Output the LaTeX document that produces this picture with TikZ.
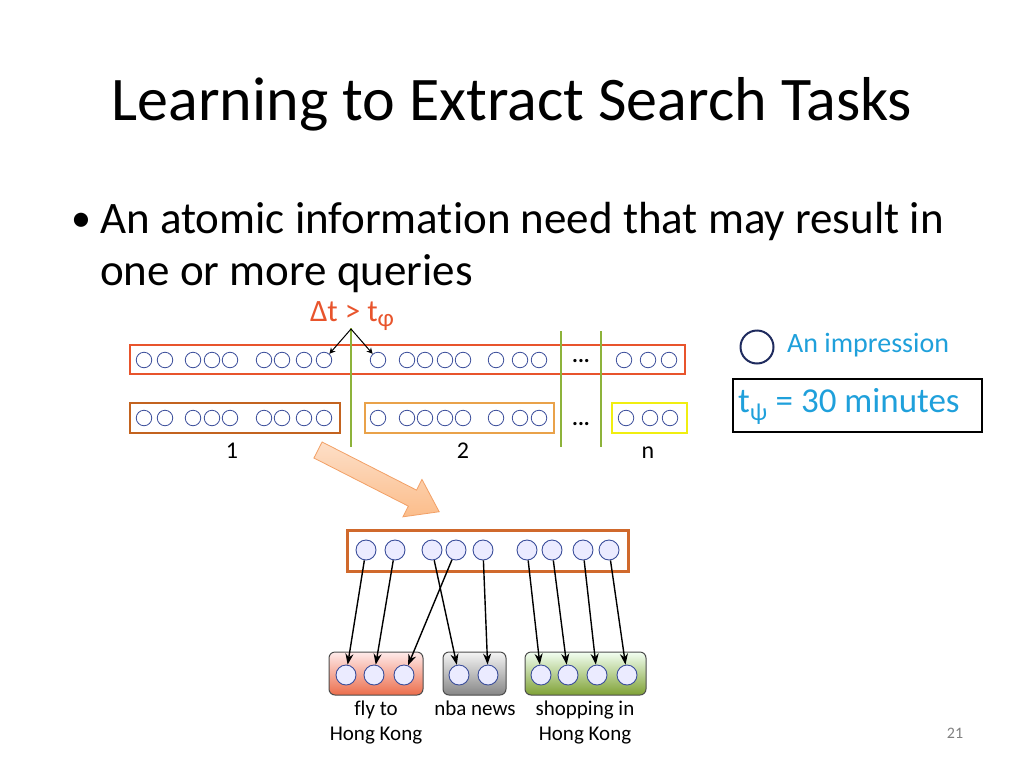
\documentclass[tikz,border=0pt]{standalone}
\usepackage{fontspec}
\setmainfont{Carlito}[Ligatures=NoCommon]
\usetikzlibrary{arrows.meta}
\definecolor{queryred}{HTML}{E8542C}
\definecolor{taskbrown}{HTML}{C3631F}
\definecolor{taskorange}{HTML}{E9A24A}
\definecolor{taskyellow}{HTML}{F0EE10}
\definecolor{cutgreen}{HTML}{8DB33A}
\definecolor{impblue}{HTML}{3A4D9A}
\definecolor{legendblue}{HTML}{1F2B5E}
\definecolor{legendcyan}{HTML}{1FA0DB}
\definecolor{sessionorange}{HTML}{D0692C}
\definecolor{peach}{HTML}{FBC49A}
\definecolor{peachedge}{HTML}{F2A066}
\newcommand{\fsz}[1]{\fontsize{#1}{1.2\dimexpr#1pt\relax}\selectfont}

\tikzset{
  imp/.style={circle, draw=impblue, line width=0.8pt, minimum size=15.5pt, inner sep=0pt},
  bigimp/.style={circle, draw=impblue, line width=0.9pt, fill=white!92!blue, minimum size=20pt, inner sep=0pt},
  cut/.style={cutgreen, line width=1.2pt},
  link/.style={-{Stealth[length=11pt,width=8pt]}, line width=1.4pt, black},
  tasklabel/.style={font=\fsz{21}, align=center, inner sep=0pt},
  partlabel/.style={font=\fsz{24}, anchor=base, inner sep=0pt},
  group/.style={rounded corners=6pt, draw=black!70, line width=1pt}
}

\begin{document}
\begin{tikzpicture}[x=1pt,y=-1pt]
\useasboundingbox (0,0) rectangle (1024,768);

% title and bullet
\node[anchor=base, inner sep=0pt] (title) at (512,120) {\fsz{62}Learning to Extract Search Tasks};
\node[anchor=base west, inner sep=0pt] (bullet) at (71,231) {\fsz{40}•};
\node[anchor=base west, inner sep=0pt] (line1) at (100,233) {\fsz{45}An atomic information need that may result in};
\node[anchor=base west, inner sep=0pt] (line2) at (100,285) {\fsz{45}one or more queries};

% upper picture: query log and its split into tasks
\draw[queryred, line width=2.5pt] (130,345) rectangle (685,374);
\draw[taskbrown, line width=2.5pt] (130,403) rectangle (340,433);
\draw[taskorange, line width=2.5pt] (365,403) rectangle (554,433);
\draw[taskyellow, line width=2.5pt] (612,403) rectangle (687,433);

\foreach \x [count=\i] in {144,165,193,212,230,264,282,304,324,378,407,425,445,463,496,520,539,624,648,669}
  \node[imp] (up\i) at (\x,360) {};
\foreach \x [count=\i] in {144,165,193,212,230,264,282,304,324,378,407,425,445,463,496,520,539,626,650,670}
  \node[imp] (lo\i) at (\x,418) {};

\draw[cut] (351,328) -- (351,447);
\draw[cut] (561,331) -- (561,447);
\draw[cut] (601,331) -- (601,447);

\node[font=\fsz{22}\bfseries] (dotsup) at (581,361) {...};
\node[font=\fsz{22}\bfseries] (dotslo) at (581,424) {...};

\node[partlabel] (lab1) at (232,458) {1};
\node[partlabel] (lab2) at (463,458) {2};
\node[partlabel] (labn) at (648,458) {n};

% time gap
\node[text=queryred, font=\fsz{31}, inner sep=0pt] (gap) at (352,316) {Δt > t\raisebox{-0.35ex}{\fsz{25}φ}};
\coordinate (gapsrc) at (351,329);
\draw[-{Stealth[length=6pt,width=6pt]}, line width=1pt] (gapsrc) -- (up9);
\draw[-{Stealth[length=6pt,width=6pt]}, line width=1pt] (gapsrc) -- (up10);

% big arrow
\begin{scope}[shift={(318,450)}, rotate=-27]
  \draw[peachedge, line width=0.8pt, top color=peach!55!white, bottom color=peach!90!orange]
    (0,-9) -- (106,-9) -- (106,-21) -- (136,0) -- (106,21) -- (106,9) -- (0,9) -- cycle;
\end{scope}

% lower picture: one task split into sub-tasks
\draw[sessionorange, line width=3pt] (347,530) rectangle (628,571);
\foreach \x [count=\i] in {366,395,432,456,483,527,552,583,609}
  \node[bigimp] (s\i) at (\x,550) {};

\draw[group, top color=red!8!white, bottom color=queryred!85!white] (329,652) rectangle (423,695);
\draw[group, top color=gray!8, bottom color=gray!95] (443,652) rectangle (506,695);
\draw[group, top color=green!5!white, bottom color=cutgreen!90!black] (525,652) rectangle (646,695);

\foreach \x [count=\i] in {346,374,404}
  \node[bigimp] (fly\i) at (\x,675) {};
\foreach \x [count=\i] in {459,488}
  \node[bigimp] (nba\i) at (\x,675) {};
\foreach \x [count=\i] in {541,568,597,627}
  \node[bigimp] (shop\i) at (\x,675) {};

\draw[link] (s1) -- (fly1);
\draw[link] (s2) -- (fly2);
\draw[link] (s3) -- (nba1);
\draw[link] (s4) -- (fly3);
\draw[link] (s5) -- (nba2);
\draw[link] (s6) -- (shop1);
\draw[link] (s7) -- (shop2);
\draw[link] (s8) -- (shop3);
\draw[link] (s9) -- (shop4);

\node[tasklabel, anchor=north] (flylab) at (376,701) {fly to\\Hong Kong};
\node[tasklabel, anchor=north] (nbalab) at (475,701) {nba news};
\node[tasklabel, anchor=north] (shoplab) at (585,701) {shopping in\\Hong Kong};

% legend
\node[circle, draw=legendblue, line width=2pt, minimum size=33pt, inner sep=0pt] (legimp) at (757,347) {};
\node[anchor=west, text=legendcyan, font=\fsz{28}, inner sep=0pt] (legtext) at (787,345) {An impression};
\draw[black, line width=2.5pt] (733,379) rectangle (982,432);
\node[anchor=west, text=legendcyan, font=\fsz{35}, inner sep=0pt] (thresh) at (738,406) {t\textsubscript{ψ} = 30 minutes};

% slide number
\node[text=black!50, font=\fsz{16}] (pagenum) at (955,733) {21};
\end{tikzpicture}
\end{document}
